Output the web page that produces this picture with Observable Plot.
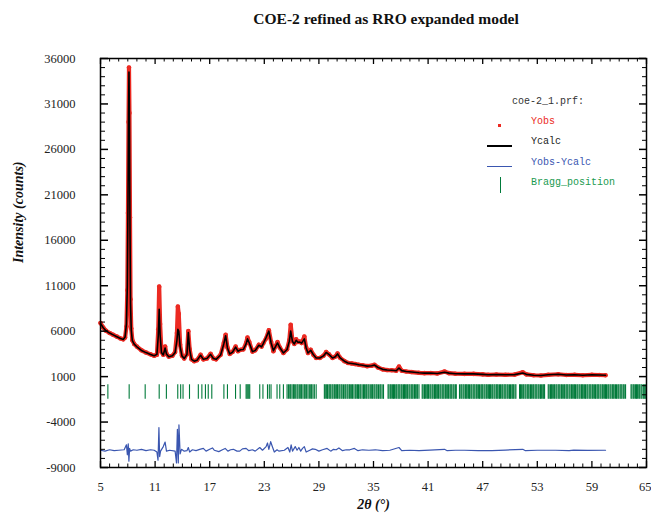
<!DOCTYPE html>
<html><head><meta charset="utf-8">
<script src="https://cdn.jsdelivr.net/npm/d3@7"></script>
<script src="https://cdn.jsdelivr.net/npm/@observablehq/plot@0.6"></script>
<style>
body{margin:0;background:#fff;width:651px;height:514px;overflow:hidden;position:relative}
#title{height:36px;position:relative}
#title span{position:absolute;left:386px;top:10px;transform:translateX(-50%);white-space:nowrap;font:bold 15.5px "Liberation Serif","Times New Roman",serif;color:#111}
#chart{position:relative}
.lg{position:absolute;font:10px "Liberation Mono","Courier New",monospace;white-space:nowrap;line-height:12px}
.sw{position:absolute}
</style></head><body>
<div id="title"><span></span></div>
<div id="chart"></div>
<div id="legend"></div>
<script>
const titleText = "COE-2 refined as RRO expanded model";
const xLabel = "2θ (°)";
const yLabel = "Intensity (counts)";
const legendHeader = "coe-2_1.prf:";
const legendNames = ["Yobs", "Ycalc", "Yobs-Ycalc", "Bragg_position"];

const xMajor = [5, 11, 17, 23, 29, 35, 41, 47, 53, 59, 65];
const yMajor = [-9000, -4000, 1000, 6000, 11000, 16000, 21000, 26000, 31000, 36000];
const xMinor = [6,7,8,9,10,12,13,14,15,16,18,19,20,21,22,24,25,26,27,28,30,31,32,33,34,36,37,38,39,40,42,43,44,45,46,48,49,50,51,52,54,55,56,57,58,60,61,62,63,64];
const yMinor = [-8000,-7000,-6000,-5000,-3000,-2000,-1000,0,2000,3000,4000,5000,7000,8000,9000,10000,12000,13000,14000,15000,17000,18000,19000,20000,22000,23000,24000,25000,27000,28000,29000,30000,32000,33000,34000,35000];

const twoTheta = [
 5.0,5.3,5.6,6.0,6.4,6.8,7.2,7.5,7.7,7.85,
 7.95,8.02,8.08,8.13,8.18,8.24,8.3,8.38,8.5,8.7,
 9.0,9.5,10.0,10.5,10.9,11.2,11.35,11.45,11.55,11.7,
 11.9,12.1,12.25,12.5,12.9,13.2,13.4,13.5,13.6,13.75,
 13.95,14.2,14.5,14.65,14.8,15.0,15.3,15.6,16.0,16.3,
 16.7,17.1,17.4,17.7,18.2,18.55,18.75,18.95,19.2,19.5,
 19.85,20.1,20.4,20.7,21.0,21.15,21.35,21.7,22.0,22.4,
 22.7,22.9,23.2,23.5,23.75,24.0,24.2,24.45,24.7,25.1,
 25.5,25.75,25.9,26.1,26.3,26.5,26.7,26.9,27.1,27.4,
 27.6,27.8,28.1,28.4,28.7,29.1,29.5,29.8,30.1,30.5,
 30.8,31.05,31.3,31.8,32.2,32.6,33.0,33.4,33.8,34.3,
 34.8,35.1,35.5,36.0,36.5,37.0,37.5,37.8,38.1,38.6,
 39.2,40.0,40.6,41.3,42.0,42.8,43.3,44.0,45.0,46.0,
 47.0,47.6,48.5,49.5,50.5,51.4,51.8,52.6,53.4,54.2,
 55.3,56.2,57.1,58.0,59.0,59.8,60.5];
const yObs = [
 6900,6400,6050,5800,5600,5400,5200,5100,5300,6500,
 10500,19000,29000,35000,30000,18500,9500,6300,5000,4600,
 4300,3900,3650,3450,3300,3400,6200,10900,6800,3700,
 3400,4300,3500,3200,3300,3700,5800,8700,7900,4500,
 3300,3000,3500,6000,4000,2900,2700,2800,3400,2900,
 3000,3500,3000,2900,3400,4700,5600,4200,3500,3700,
 4300,3800,3950,4000,4700,5300,4800,3750,3900,4500,
 4300,4700,5200,6100,4800,3800,4300,4800,4200,3600,
 4000,5000,6700,4900,4600,5100,4800,4850,4700,5400,
 4200,3600,3950,3400,3050,3050,3300,3700,3450,3050,
 3200,3550,3100,2700,2500,2450,2380,2300,2250,2150,
 2200,2300,2000,1800,1720,1700,1650,2100,1650,1560,
 1500,1420,1380,1400,1350,1550,1380,1320,1300,1300,
 1250,1200,1230,1200,1220,1480,1250,1150,1120,1200,
 1260,1180,1200,1150,1200,1180,1150];
const yCalc = [
 6850,6380,6040,5790,5590,5390,5190,5090,5350,6800,
 11000,20000,30000,34500,29000,17500,9000,6100,4950,4580,
 4280,3880,3640,3440,3290,3450,5500,8400,5600,3650,
 3380,4150,3480,3190,3290,3650,5000,6200,6000,4300,
 3280,2990,3450,5850,3950,2890,2700,2790,3350,2900,
 3000,3450,3000,2900,3380,4600,5500,4150,3500,3680,
 4250,3800,3950,3980,4600,5150,4700,3750,3880,4450,
 4280,4650,5300,6000,4700,3850,4250,4700,4200,3600,
 3980,4900,6000,4850,4600,5000,4780,4800,4680,5150,
 4150,3600,3900,3400,3050,3050,3280,3650,3450,3050,
 3180,3500,3100,2700,2500,2450,2380,2300,2250,2150,
 2200,2280,2000,1800,1720,1700,1650,1950,1660,1560,
 1500,1420,1380,1400,1350,1480,1380,1320,1300,1300,
 1250,1200,1230,1200,1220,1400,1250,1150,1120,1200,
 1260,1180,1200,1150,1200,1180,1150];

const diffTheta = [5.0,5.5,6.0,6.5,7.0,7.6,7.85,7.95,8.05,8.12,8.2,8.3,8.6,9.0,9.5,10.0,10.5,10.9,11.2,11.32,11.42,11.5,11.6,11.9,12.1,12.25,12.6,13.2,13.35,13.45,13.55,13.62,13.75,13.9,14.2,14.5,14.65,14.8,15.1,15.5,15.9,16.3,16.6,17.0,17.3,17.5,18.0,18.4,18.7,19.0,19.3,19.6,20.0,20.3,20.6,21.0,21.3,21.7,22.0,22.5,22.8,23.2,23.35,23.5,23.7,23.85,24.1,24.4,24.6,25.2,25.6,25.8,25.95,26.1,26.4,26.6,26.8,27.0,27.2,27.4,27.6,28.0,28.3,28.6,29.0,29.4,29.9,30.3,30.6,30.9,31.2,31.6,32.0,32.4,32.9,33.3,33.8,34.5,35.2,36.0,36.8,37.8,38.1,39.0,40.0,41.2,42.8,43.1,44.0,45.0,46.5,48.0,49.5,51.4,51.7,53.0,55.0,56.5,57.0,58.5,60.5];
const diffVal = [-7100,-7200,-7050,-7150,-7100,-7050,-6500,-7600,-6400,-8300,-6900,-7200,-7050,-7100,-7000,-7150,-7050,-7100,-7300,-8200,-4600,-7800,-7200,-6700,-6200,-7200,-7100,-7200,-8500,-4800,-8500,-4300,-7500,-7000,-7200,-7150,-6800,-7300,-7050,-7150,-7000,-6900,-7200,-7000,-6850,-7100,-7250,-7050,-6900,-7200,-7050,-7000,-7200,-7200,-6950,-6900,-7150,-7050,-7200,-6800,-7100,-6700,-6300,-7000,-6150,-6600,-7300,-7050,-7200,-7100,-6800,-7300,-6500,-7200,-6700,-7100,-6800,-7200,-6900,-6700,-7300,-7100,-6950,-7000,-7200,-7050,-6900,-7200,-7000,-7050,-6850,-7150,-7050,-7050,-6900,-7150,-7050,-7100,-7050,-7150,-7100,-6800,-7150,-7100,-7150,-7080,-7000,-7150,-7100,-7100,-7150,-7150,-7080,-7000,-7150,-7100,-7100,-7150,-7080,-7120,-7100];

const braggLow = -1500, braggHigh = 100;
const braggPos = [5.81,8.15,9.91,11.45,12.24,13.49,13.81,14.07,14.78,15.75,16.14,16.53,16.84,17.23,18.56,18.95,19.84,20.35,21.0,21.1,21.2,21.3,21.4,22.5,22.85,23.35,23.55,23.74,24.4,24.7,25.1,25.5,25.65,25.8,25.9,26.05,26.2,26.3,26.45,26.6,26.7,26.85,27.0,27.1,27.25,27.4,27.5,27.65,27.8,27.95,28.1,28.2,28.35,28.5,28.7,29.6,29.7,29.85,29.95,30.1,30.2,30.3,30.45,30.55,30.7,30.8,30.95,31.05,31.2,31.3,31.45,31.55,31.7,31.85,31.95,32.1,32.2,32.35,32.45,32.6,32.7,32.85,33.0,33.1,33.25,33.35,33.5,33.6,33.75,33.9,34.0,34.15,34.25,34.4,34.5,34.65,34.8,34.9,35.05,35.15,35.3,35.4,35.55,35.7,35.8,35.95,36.1,
 36.6,36.7,36.85,36.95,37.1,37.2,37.3,37.45,37.55,37.7,37.8,37.9,38.05,38.15,38.3,38.4,38.5,38.65,38.75,38.9,39.0,39.15,39.25,39.35,39.5,39.6,39.75,39.85,40.0,40.35,40.45,40.6,40.7,40.85,40.95,41.05,41.2,41.3,41.45,41.55,41.7,41.8,41.9,42.05,42.15,42.3,42.4,42.55,42.65,42.75,42.9,43.0,43.15,43.25,43.4,43.5,43.6,43.75,43.85,44.0,44.1,44.45,44.6,44.7,44.85,44.95,45.1,45.2,45.3,45.45,45.55,45.7,45.8,45.95,46.05,46.15,46.3,46.4,46.55,46.65,46.8,46.9,47.0,47.15,47.25,47.4,47.5,47.65,47.75,47.85,48.0,48.1,48.25,48.35,48.5,48.6,48.7,48.85,48.95,49.1,49.2,49.35,49.45,49.55,49.7,49.8,49.95,50.05,50.2,50.3,50.4,50.55,50.65,51.05,51.15,51.25,51.4,51.5,51.65,51.75,51.9,52.0,52.1,52.25,52.35,52.5,52.6,52.75,52.85,52.95,53.1,53.2,53.35,53.45,53.6,53.7,53.8,54.2,54.3,54.45,54.55,54.65,54.8,54.9,55.05,55.15,55.3,55.4,55.5,55.65,55.75,55.9,56.0,56.15,56.25,56.35,56.5,56.6,56.75,56.85,57.0,57.1,57.2,57.35,57.45,57.6,57.7,57.85,57.95,58.05,58.2,58.3,58.45,58.55,58.7,58.8,58.9,59.05,59.15,59.3,59.4,59.55,59.65,59.75,59.9,60.0,60.15,60.25,60.4,60.5,60.6,60.75,60.85,61.0,61.1,61.25,61.35,61.45,61.6,61.7,61.85,61.95,62.1,62.2,62.3,62.45,62.55,62.7,63.3,63.4,63.55,63.65,63.8,63.9,64.0,64.15,64.25,64.4,64.5,64.65,64.75,64.85,64.95];

const RED = "#ec2a22", BLUE = "#3a56b0", GREEN = "#007a3a";

const obs = twoTheta.map((t, i) => ({t, obs: yObs[i], calc: yCalc[i]}));
const diff = diffTheta.map((t, i) => ({t, v: diffVal[i]}));

const W = 651, H = 478, mT = 22, mB = 47, mL = 100, mR = 5;
const iW = W - mL - mR, iH = H - mT - mB;

document.querySelector("#title span").textContent = titleText;

const serif = "'Liberation Serif','Times New Roman',serif";
const chart = Plot.plot({
  width: W, height: H, marginTop: mT, marginBottom: mB, marginLeft: mL, marginRight: mR,
  x: {domain: [5, 65]},
  y: {domain: [-9000, 36000]},
  style: {fontFamily: serif, fontSize: "12.5px", color: "#222", background: "#fff"},
  marks: [
    Plot.ruleX(braggPos, {x: d => d, y1: braggLow, y2: braggHigh, stroke: GREEN, strokeWidth: 1.1, strokeOpacity: 1}),
    Plot.line(diff, {x: "t", y: "v", stroke: BLUE, strokeWidth: 1.2}),
    Plot.line(obs, {x: "t", y: "obs", stroke: RED, strokeWidth: 4.2, strokeLinejoin: "round"}),
    Plot.dot(obs, {x: "t", y: "obs", r: 2.3, fill: RED}),
    Plot.line(obs, {x: "t", y: "calc", stroke: "#000", strokeWidth: 1.6}),
    // inward ticks on all four sides
    Plot.tickX(xMajor, {x: d => d, insetTop: iH - 6, stroke: "#000", strokeWidth: 1.3}),
    Plot.tickX(xMinor, {x: d => d, insetTop: iH - 3.5, stroke: "#000", strokeWidth: 1}),
    Plot.tickX(xMajor, {x: d => d, insetBottom: iH - 6, stroke: "#000", strokeWidth: 1.3}),
    Plot.tickX(xMinor, {x: d => d, insetBottom: iH - 3.5, stroke: "#000", strokeWidth: 1}),
    Plot.tickY(yMajor, {y: d => d, insetRight: iW - 8, stroke: "#000", strokeWidth: 1.5}),
    Plot.tickY(yMinor, {y: d => d, insetRight: iW - 5, stroke: "#000", strokeWidth: 1}),
    Plot.tickY(yMajor, {y: d => d, insetLeft: iW - 7, stroke: "#000", strokeWidth: 1.5}),
    Plot.tickY(yMinor, {y: d => d, insetLeft: iW - 4, stroke: "#000", strokeWidth: 1}),
    Plot.frame({stroke: "#000", strokeWidth: 1.5}),
    Plot.axisX(xMajor.slice(0, -1), {tickSize: 0, tickPadding: 15, tickFormat: d => String(d), label: null}),
    Plot.axisX(xMajor.slice(-1), {tickSize: 0, tickPadding: 15, tickFormat: d => String(d), label: null, textAnchor: "end", dx: 5}),
    Plot.axisY(yMajor, {tickSize: 0, tickPadding: 25, tickFormat: d => String(d), label: null}),
    Plot.text([xLabel], {text: d => d, frameAnchor: "bottom", dy: 41, fontSize: 14, fontWeight: "bold", fontStyle: "italic", fill: "#111"}),
    Plot.text([yLabel], {text: d => d, frameAnchor: "left", dx: -82, rotate: -90, fontSize: 14, fontWeight: "bold", fontStyle: "italic", fill: "#111"})
  ]
});
document.getElementById("chart").appendChild(chart);

// legend (HTML overlay, positioned in page pixels)
const lg = document.getElementById("legend");
function addText(txt, left, cy, color) {
  const d = document.createElement("div");
  d.className = "lg"; d.textContent = txt;
  d.style.left = left + "px"; d.style.top = (cy - 6) + "px"; d.style.color = color;
  lg.appendChild(d);
}
function addBox(left, top, w, h, color) {
  const d = document.createElement("div");
  d.className = "sw"; d.style.left = left + "px"; d.style.top = top + "px";
  d.style.width = w + "px"; d.style.height = h + "px"; d.style.background = color;
  lg.appendChild(d);
}
addText(legendHeader, 512, 102, "#333");
addBox(497.5, 123.5, 3.5, 3.5, RED);
addText(legendNames[0], 531, 122, RED);
addBox(487, 145, 25, 2, "#000");
addText(legendNames[1], 531, 142, "#222");
addBox(487, 165.5, 25, 1.2, BLUE);
addText(legendNames[2], 531, 163, BLUE);
addBox(499.5, 177, 1.3, 16, GREEN);
addText(legendNames[3], 531, 183, "#1a9a50");
</script>
</body></html>
